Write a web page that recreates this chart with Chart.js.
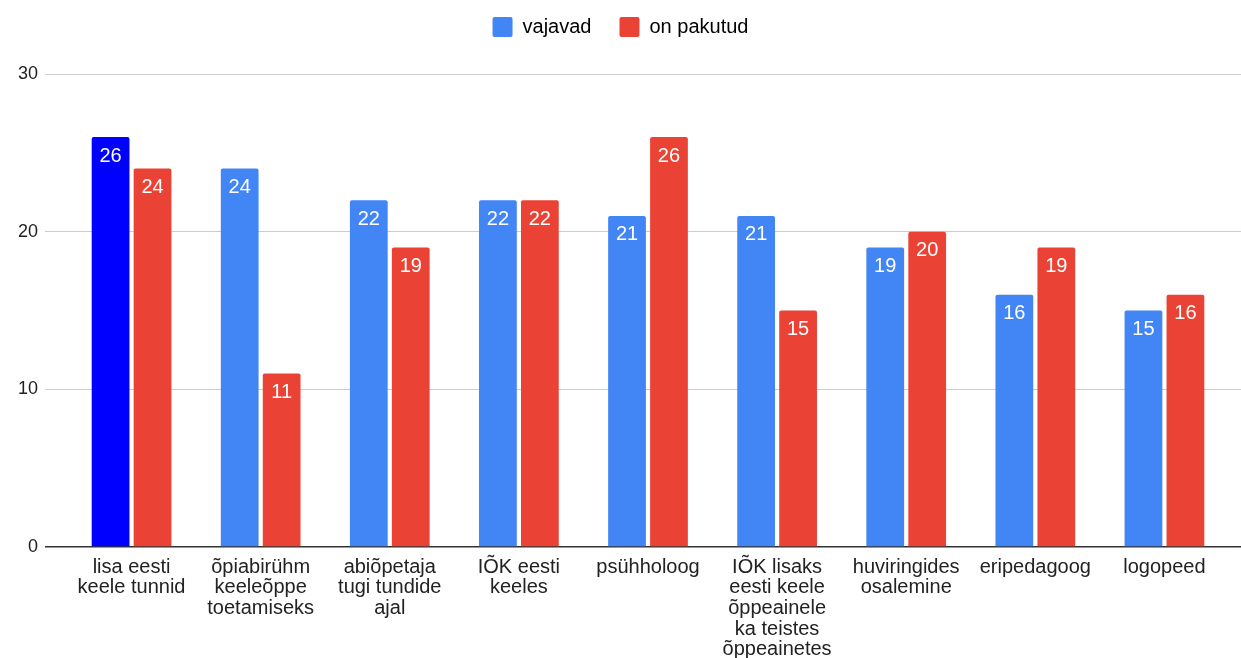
<!DOCTYPE html>
<html lang="et">
<head>
<meta charset="utf-8">
<title>Tugiteenused</title>
<script src="https://cdn.jsdelivr.net/npm/chart.js@4.4.1/dist/chart.umd.min.js"></script>
<style>
  html, body { margin: 0; padding: 0; background: #fff; }
  .chart-wrap { position: relative; width: 1241px; height: 658px; }
</style>
</head>
<body>
<div class="chart-wrap">
  <canvas id="support-chart"></canvas>
</div>
<script>
// ─── Data ─────────────────────────────────────────────────────
const categories = [
  ['lisa eesti', 'keele tunnid'],
  ['õpiabirühm', 'keeleõppe', 'toetamiseks'],
  ['abiõpetaja', 'tugi tundide', 'ajal'],
  ['IÕK eesti', 'keeles'],
  'psühholoog',
  ['IÕK lisaks', 'eesti keele', 'õppeainele', 'ka teistes', 'õppeainetes'],
  ['huviringides', 'osalemine'],
  'eripedagoog',
  'logopeed',
];
const needed  = [26, 24, 22, 22, 21, 21, 19, 16, 15];
const offered = [24, 11, 19, 22, 26, 15, 20, 19, 16];
const yTicks  = [0, 10, 20, 30];

const BLUE = '#4285f4';
const BLUE_HL = '#0000ff';
const RED = '#ea4335';
const FONT = '"Liberation Sans", Arial, sans-serif';
const TEXT = '#222222';

// ─── Plugins ──────────────────────────────────────────────────
// value printed in white just under the top of every bar
const barValues = {
  id: 'barValues',
  afterDatasetsDraw(chart) {
    const ctx = chart.ctx;
    ctx.save();
    ctx.font = `20px ${FONT}`;
    ctx.fillStyle = '#ffffff';
    ctx.textAlign = 'center';
    ctx.textBaseline = 'middle';
    chart.data.datasets.forEach((ds, i) => {
      chart.getDatasetMeta(i).data.forEach((bar, j) => {
        ctx.fillText(String(ds.data[j]), bar.x, bar.y + 19);
      });
    });
    ctx.restore();
  },
};

// fixed legend band so the plot starts at the same place every time
const legendBand = {
  id: 'legendBand',
  beforeLayout(chart) {
    const lg = chart.legend;
    if (!lg || lg._bandFixed) return;
    const fit = lg.fit.bind(lg);
    lg.fit = function () { fit(); this.height = 85; };
    lg._bandFixed = true;
  },
};

// ─── Chart ────────────────────────────────────────────────────
function gridColor(ctx) {
  return ctx.tick && ctx.tick.value === 0 ? '#333333' : '#cccccc';
}
function gridWidth(ctx) {
  return ctx.tick && ctx.tick.value === 0 ? 1.5 : 1;
}

function initSupportChart() {
  const canvas = document.getElementById('support-chart');
  new Chart(canvas.getContext('2d'), {
    type: 'bar',
    data: {
      labels: categories,
      datasets: [
        {
          label: 'vajavad',
          data: needed,
          backgroundColor: needed.map((_, i) => (i === 0 ? BLUE_HL : BLUE)),
          borderRadius: 2,
          categoryPercentage: 0.65,
          barPercentage: 0.9,
        },
        {
          label: 'on pakutud',
          data: offered,
          backgroundColor: RED,
          borderRadius: 2,
          categoryPercentage: 0.65,
          barPercentage: 0.9,
        },
      ],
    },
    options: {
      responsive: true,
      maintainAspectRatio: false,
      animation: false,
      layout: { padding: { top: -11, left: 0, right: 0, bottom: 0 } },
      plugins: {
        legend: {
          position: 'top',
          labels: {
            boxWidth: 20,
            boxHeight: 20,
            padding: 28,
            color: TEXT,
            font: { family: FONT, size: 20 },
            generateLabels: chart => chart.data.datasets.map((ds, i) => ({
              text: ds.label,
              fillStyle: i === 0 ? BLUE : RED,
              strokeStyle: i === 0 ? BLUE : RED,
              lineWidth: 0,
              borderRadius: 2,
              datasetIndex: i,
            })),
          },
        },
        tooltip: { enabled: false },
      },
      scales: {
        x: {
          grid: { display: false, drawTicks: false },
          border: { display: false },
          ticks: {
            autoSkip: false,
            maxRotation: 0,
            padding: 10,
            color: TEXT,
            font: { family: FONT, size: 20, lineHeight: 1.03 },
          },
          afterFit: s => { s.height = 111; },
        },
        y: {
          min: 0,
          max: 30,
          afterBuildTicks: s => { s.ticks = yTicks.map(v => ({ value: v })); },
          grid: { color: gridColor, lineWidth: gridWidth, tickLength: 22, tickColor: gridColor },
          border: { display: false },
          ticks: {
            padding: 7,
            color: TEXT,
            font: { family: FONT, size: 18 },
          },
          afterFit: s => { s.width = 67; },
        },
        y2: {
          position: 'right',
          min: 0,
          max: 30,
          afterBuildTicks: s => { s.ticks = yTicks.map(v => ({ value: v })); },
          grid: { drawOnChartArea: false, tickLength: 12, color: gridColor, lineWidth: gridWidth, tickColor: gridColor },
          border: { display: false },
          ticks: { display: false },
          afterFit: s => { s.width = 12; },
        },
      },
    },
    plugins: [barValues, legendBand],
  });
}

initSupportChart();
</script>
</body>
</html>
